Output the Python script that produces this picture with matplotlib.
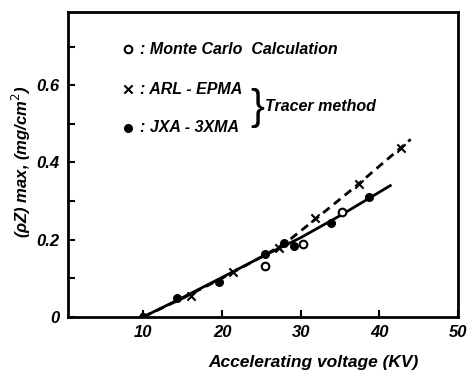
import matplotlib
matplotlib.use("Agg")
import matplotlib.pyplot as plt

plt.rcParams['font.family'] = ['Liberation Sans Narrow', 'Liberation Sans', 'DejaVu Sans']

# Data
mc_x = [25.5, 30.3, 35.2]
mc_y = [0.132, 0.188, 0.271]

arl_x = [10.2, 16.0, 21.4, 27.3, 31.8, 37.4, 42.7]
arl_y = [0.0, 0.055, 0.117, 0.178, 0.256, 0.345, 0.438]

jxa_x = [10.0, 14.3, 19.6, 25.4, 27.9, 29.2, 33.9, 38.7]
jxa_y = [0.0, 0.048, 0.091, 0.163, 0.190, 0.184, 0.243, 0.310]

solid_x = [10, 15, 20, 25, 30, 35, 41.4]
solid_y = [0.0, 0.050, 0.102, 0.155, 0.205, 0.262, 0.340]

dash_x = [10, 15, 20, 25, 28, 32, 37, 44]
dash_y = [0.0, 0.048, 0.100, 0.155, 0.190, 0.255, 0.338, 0.460]

xticks = [10, 20, 30, 40, 50]
yticks = [0, 0.2, 0.4, 0.6]
yticklabels = ['0', '0.2', '0.4', '0.6']
yminor = [0.1, 0.3, 0.5, 0.7]

fig = plt.figure(figsize=(4.74, 3.74), dpi=100)
ax = fig.add_axes([0.1435, 0.153, 0.8225, 0.815])

ax.plot(solid_x, solid_y, color='black', lw=2.0)
ax.plot(dash_x, dash_y, color='black', lw=2.0, ls=(0, (3, 2)))
ax.scatter(jxa_x, jxa_y, s=30, color='black', zorder=3)
ax.scatter(arl_x, arl_y, s=35, marker='x', color='black', linewidths=1.5, zorder=3)
ax.scatter(mc_x, mc_y, s=30, facecolors='white', edgecolors='black', linewidths=1.5, zorder=4)

ax.set_xlim(0.4, 50)
ax.set_ylim(0, 0.79)
ax.set_xticks(xticks)
ax.set_xticklabels([str(t) for t in xticks])
ax.set_yticks(yticks)
ax.set_yticklabels(yticklabels)
ax.set_yticks(yminor, minor=True)
ax.tick_params(direction='in', length=5, width=1.5, pad=6)
ax.tick_params(which='minor', direction='in', length=5, width=1.5)
for lab in ax.get_xticklabels() + ax.get_yticklabels():
    lab.set_fontstyle('italic')
    lab.set_fontweight('bold')
    lab.set_fontsize(12)
for sp in ax.spines.values():
    sp.set_linewidth(2)

ax.set_xlabel('Accelerating voltage (KV)', fontsize=12.5, fontstyle='italic', fontweight='bold')
ax.xaxis.set_label_coords(0.63, -0.125)
ax.set_ylabel('(ρZ) max, (mg/cm$^2$)', fontsize=12, fontstyle='italic', fontweight='bold')
ax.yaxis.set_label_coords(-0.09, 0.51)

tkw = dict(transform=ax.transAxes, fontsize=11.5, fontstyle='italic', fontweight='bold', va='center')
ax.scatter([0.155], [0.877], s=30, facecolors='white', edgecolors='black', linewidths=1.5, transform=ax.transAxes, clip_on=False)
ax.text(0.185, 0.877, ': Monte Carlo  Calculation', **tkw)
ax.scatter([0.155], [0.747], s=35, marker='x', color='black', linewidths=1.5, transform=ax.transAxes, clip_on=False)
ax.text(0.185, 0.747, ': ARL - EPMA', **tkw)
ax.scatter([0.155], [0.620], s=30, color='black', transform=ax.transAxes, clip_on=False)
ax.text(0.185, 0.620, ': JXA - 3XMA', **tkw)
ax.text(0.468, 0.685, '}', transform=ax.transAxes, fontsize=30, va='center', ha='left', fontweight='light')
ax.text(0.505, 0.690, 'Tracer method', **tkw)

fig.savefig('out.png', dpi=100)
